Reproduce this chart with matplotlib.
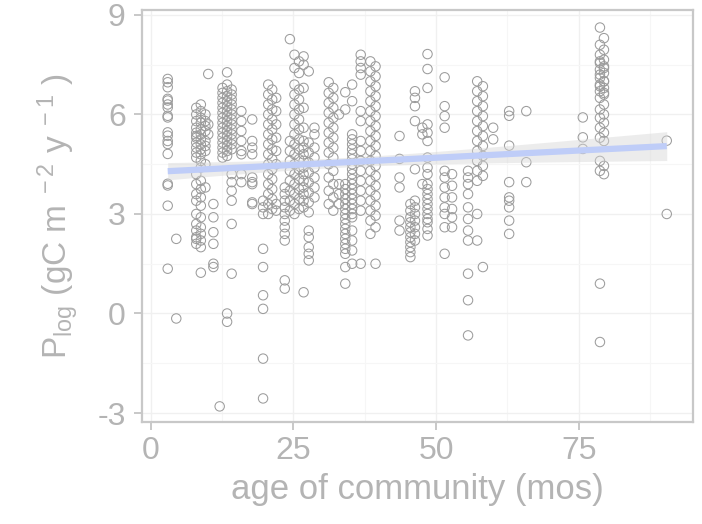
import numpy as np
import matplotlib
matplotlib.use("Agg")
import matplotlib.pyplot as plt

plt.rcParams['font.family'] = ['Liberation Sans', 'DejaVu Sans']
plt.rcParams['mathtext.fontset'] = 'custom'
plt.rcParams['mathtext.rm'] = 'Liberation Sans'
plt.rcParams['mathtext.it'] = 'Liberation Sans'

# ---- data: community age (months) and log productivity, column by column ----
age_a = [3.0]
p_a = [7.07, 6.97, 6.82, 6.47, 6.42, 6.3, 6.21, 5.96, 5.91, 5.46, 5.36, 5.2, 5.11, 4.81, 3.91, 3.86, 3.25, 1.35]
age_b = [4.5]
p_b = [2.25, -0.15]
age_c = [8.0]
p_c = [6.2, 6.0, 5.8, 5.6, 5.45, 5.3, 5.15, 5.0, 4.85, 4.7, 5.35, 4.2, 3.9, 3.6, 3.4, 3.0, 2.7, 2.5, 2.3, 2.1, 2.25]
age_d = [8.8]
p_d = [6.3, 6.1, 5.9, 5.75, 5.55, 5.4, 5.25, 5.1, 4.95, 4.8, 4.6, 4.4, 4.0, 3.75, 3.5, 3.25, 2.9, 2.6, 2.4, 2.2, 2.0, 1.23]
age_e = [9.6]
p_e = [5.8, 5.5, 5.2, 4.9, 4.5, 3.8, 6.0, 5.65, 5.05]
age_f = [10.1]
p_f = [7.22, 5.7, 5.4]
age_g = [11.0]
p_g = [3.3, 2.9, 2.45, 2.1, 1.5, 1.4]
age_h = [12.1]
p_h = [-2.8]
age_i = [12.6]
p_i = [6.8, 6.65, 6.5, 6.35, 6.2, 6.05, 5.9, 5.75, 5.6, 5.45, 5.3, 5.15, 5.0, 4.85, 4.7]
age_j = [13.4]
p_j = [7.27, 6.9, 6.7, 6.55, 6.4, 6.25, 6.1, 5.95, 5.8, 5.65, 5.5, 5.35, 5.2, 5.05, 4.9, 4.75, 0.0, -0.25]
age_k = [14.2]
p_k = [6.75, 6.6, 6.45, 6.3, 6.15, 6.0, 5.85, 5.7, 5.55, 5.4, 5.25, 5.1, 4.95, 4.2, 3.96, 3.7, 3.4, 2.7, 1.2]
age_l = [15.9]
p_l = [6.1, 5.8, 5.5, 5.2, 4.9, 4.8, 4.2, 3.96]
age_m = [17.8]
p_m = [5.85, 5.2, 5.0, 4.8, 4.1, 3.96, 3.9, 3.35, 3.3]
age_n = [19.7]
p_n = [1.95, 1.4, 0.55, 0.14, -1.36, -2.56, 3.4, 3.2, 3.0]
age_o1 = [20.6]
p_o1 = [6.9, 6.6, 6.3, 6.0, 5.7, 5.4, 5.1, 4.8, 4.5, 4.2, 3.9, 3.6, 3.3, 3.0]
age_o2 = [21.3]
p_o2 = [6.75, 6.45, 6.15, 5.85, 5.55, 5.25, 4.95, 4.65, 4.35, 4.05, 3.75, 3.45, 3.15]
age_p = [22.0]
p_p = [6.5, 6.1, 5.7, 5.3, 4.9, 4.5, 3.3, 3.1]
age_q = [23.5]
p_q = [3.8, 3.6, 3.4, 3.2, 3.0, 2.8, 2.6, 2.4, 2.2, 1.0, 0.75]
age_r = [24.4]
p_r = [8.27, 5.2, 4.9, 4.6, 4.3, 4.0, 3.7, 3.4, 3.1]
age_s1 = [25.2]
p_s1 = [7.8, 7.4, 6.9, 6.6, 6.3, 6.0, 5.7, 5.4, 5.1, 4.8, 4.5, 4.2, 3.9, 3.6, 3.3, 3.0]
age_s2 = [26.0]
p_s2 = [7.6, 7.25, 6.75, 6.45, 6.15, 5.85, 5.55, 5.25, 4.95, 4.65, 4.35, 4.05, 3.75, 3.45, 3.15]
age_t = [26.8]
p_t = [7.75, 7.5, 6.8, 6.2, 5.6, 5.2, 5.0, 4.8, 4.6, 4.4, 4.2, 4.0, 3.8, 3.6, 3.4, 3.2, 0.64]
age_u = [27.7]
p_u = [7.3, 5.15, 4.85, 4.55, 4.25, 3.95, 3.65, 3.35, 3.05, 2.5, 2.3, 2.0, 1.8, 1.6]
age_v = [28.7]
p_v = [5.6, 5.4, 5.0, 4.7, 4.4, 4.1, 3.8, 3.5]
age_w1 = [31.2]
p_w1 = [6.97, 6.65, 6.35, 6.05, 5.75, 5.45, 5.15, 4.85, 4.5, 4.1, 3.7, 3.3]
age_w2 = [32.0]
p_w2 = [6.8, 6.5, 6.2, 5.9, 5.6, 5.3, 5.0, 4.7, 4.3, 3.9, 3.5, 3.1]
age_x = [33.0]
p_x = [3.9, 3.6, 3.3, 6.0]
age_y = [34.1]
p_y = [6.67, 6.15, 3.9, 3.75, 3.6, 3.45, 3.3, 3.15, 3.0, 2.85, 2.7, 2.55, 2.4, 2.25, 2.1, 1.95, 1.8, 1.4, 0.9]
age_z = [35.3]
p_z = [6.9, 6.4, 5.4, 5.25, 5.1, 4.95, 4.8, 4.65, 4.5, 4.35, 4.2, 4.05, 3.9, 3.75, 3.6, 3.45,
       3.3, 3.15, 3.0, 2.9, 2.5, 2.2, 1.9, 1.5]
age_aa = [36.8]
p_aa = [7.8, 7.6, 7.4, 7.2, 6.1, 5.8, 5.2, 4.9, 4.6, 4.3, 4.0, 3.7, 3.4, 3.1, 1.5]
age_ab1 = [38.5]
p_ab1 = [7.6, 7.3, 7.0, 6.7, 6.4, 6.1, 5.8, 5.5, 5.2, 4.9, 4.6, 4.3, 4.0, 3.7, 3.4, 3.1, 2.8, 2.4]
age_ab2 = [39.4]
p_ab2 = [7.45, 7.15, 6.85, 6.55, 6.25, 5.95, 5.65, 5.35, 5.05, 4.75, 4.45, 4.15, 3.85, 3.55, 3.25, 2.95, 2.6, 1.5]
age_ac = [43.6]
p_ac = [5.35, 4.66, 4.1, 3.8, 2.8, 2.5]
age_ad = [45.5]
p_ad = [3.3, 3.1, 2.9, 2.75, 2.6, 2.45, 2.3, 2.15, 2.0, 1.85, 1.7]
age_ae = [46.3]
p_ae = [6.7, 6.5, 6.25, 5.8, 4.35, 3.4, 3.2, 3.0, 2.8, 2.6, 2.4, 2.2]
age_af = [47.6]
p_af = [5.6, 5.4, 3.9]
age_ag = [48.5]
p_ag = [7.82, 7.37, 6.8, 5.7, 5.45, 5.2, 4.7, 4.4, 4.2, 3.9, 3.75, 3.6, 3.45, 3.3, 3.15, 3.0,
        2.85, 2.75, 2.55, 2.35]
age_ah = [51.5]
p_ah = [7.12, 6.25, 5.95, 5.6, 4.3, 4.1, 3.8, 3.5, 3.2, 3.0, 2.6, 1.8]
age_ai = [52.8]
p_ai = [4.2, 3.85, 3.5, 3.15, 2.9, 2.6]
age_aj = [55.6]
p_aj = [4.3, 4.1, 3.9, 3.6, 3.2, 2.85, 2.5, 2.2, 1.2, 0.4, -0.66]
age_ak1 = [57.2]
p_ak1 = [7.0, 6.7, 6.4, 6.1, 5.8, 5.5, 5.2, 4.9, 4.6, 4.3, 4.0, 3.0, 2.2]
age_ak2 = [58.2]
p_ak2 = [6.85, 6.55, 6.25, 5.95, 5.65, 5.35, 5.05, 4.75, 4.45, 4.15, 1.4]
age_al = [60.0]
p_al = [5.6, 5.25]
age_am = [62.8]
p_am = [6.1, 5.96, 5.06, 3.96, 3.5, 3.4, 3.2, 2.8, 2.4]
age_an = [65.8]
p_an = [6.1, 4.56, 3.96]
age_ao = [75.7]
p_ao = [5.91, 5.31, 4.96]
age_ap1 = [78.7]
p_ap1 = [8.62, 8.1, 7.8, 7.6, 7.55, 7.35, 7.2, 7.1, 6.9, 6.85, 6.7, 6.5, 6.15, 5.9, 5.6, 5.3,
         4.6, 4.3, 0.9, -0.86]
age_ap2 = [79.4]
p_ap2 = [8.3, 7.95, 7.65, 7.45, 7.4, 7.25, 7.0, 7.0, 6.8, 6.65, 6.6, 6.3, 6.0, 5.75, 5.45, 5.2,
         4.45, 4.2]
age_aq = [90.4]
p_aq = [5.21, 3.0]

groups = [
    (age_a, p_a), (age_b, p_b), (age_c, p_c), (age_d, p_d), (age_e, p_e), (age_f, p_f),
    (age_g, p_g), (age_h, p_h), (age_i, p_i), (age_j, p_j), (age_k, p_k), (age_l, p_l),
    (age_m, p_m), (age_n, p_n), (age_o1, p_o1), (age_o2, p_o2), (age_p, p_p), (age_q, p_q),
    (age_r, p_r), (age_s1, p_s1), (age_s2, p_s2), (age_t, p_t), (age_u, p_u), (age_v, p_v),
    (age_w1, p_w1), (age_w2, p_w2), (age_x, p_x), (age_y, p_y), (age_z, p_z), (age_aa, p_aa),
    (age_ab1, p_ab1), (age_ab2, p_ab2), (age_ac, p_ac), (age_ad, p_ad), (age_ae, p_ae),
    (age_af, p_af), (age_ag, p_ag), (age_ah, p_ah), (age_ai, p_ai), (age_aj, p_aj),
    (age_ak1, p_ak1), (age_ak2, p_ak2), (age_al, p_al), (age_am, p_am), (age_an, p_an),
    (age_ao, p_ao), (age_ap1, p_ap1), (age_ap2, p_ap2), (age_aq, p_aq),
]
x = np.concatenate([np.full(len(p), a[0]) for a, p in groups])
y = np.concatenate([np.asarray(p, float) for a, p in groups])

x_ticks = [0, 25, 50, 75]
y_ticks = [-3, 0, 3, 6, 9]

# ---- linear fit with 95% CI (like geom_smooth(method='lm')) ----
n = len(x)
slope, intercept = np.polyfit(x, y, 1)
xs = np.linspace(x.min(), x.max(), 100)
ys = intercept + slope * xs
resid = y - (intercept + slope * x)
s = np.sqrt(np.sum(resid ** 2) / (n - 2))
se = s * np.sqrt(1.0 / n + (xs - x.mean()) ** 2 / np.sum((x - x.mean()) ** 2))

# ---- figure ----
fig = plt.figure(figsize=(7.02, 5.24), dpi=100)
ax = fig.add_axes([0.2023, 0.1947, 0.7849, 0.7863])

grey_txt = '#b4b4b4'
border = '#c8c8c8'

ax.scatter(x, y, s=46, facecolors='none', edgecolors='#9c9c9c', linewidths=0.75, zorder=3)
ax.fill_between(xs, ys - 1.96 * se, ys + 1.96 * se, color='#d6d6d6', alpha=0.45, lw=0, zorder=4)
ax.plot(xs, ys, color='#bfcdf8', lw=4.5, solid_capstyle='butt', zorder=5)

ax.set_xlim(-1.5, 95.0)
ax.set_ylim(-3.27, 9.15)
ax.set_xticks(x_ticks)
ax.set_yticks(y_ticks)
ax.set_xticks([12.5, 37.5, 62.5, 87.5], minor=True)
ax.set_yticks([-1.5, 1.5, 4.5, 7.5], minor=True)
ax.set_yticklabels(['-3', '0', '3', '6', '9'])
ax.grid(True, which='major', color='#f0f0f0', lw=1.0, zorder=0)
ax.grid(True, which='minor', color='#f6f6f6', lw=0.8, zorder=0)
ax.set_axisbelow(True)

for sp in ax.spines.values():
    sp.set_color(border)
    sp.set_linewidth(1.6)

ax.tick_params(axis='both', which='major', colors=border, labelcolor=grey_txt,
               labelsize=23, length=5.8, width=1.4)
ax.tick_params(axis='x', which='major', pad=4)
ax.tick_params(axis='y', which='major', pad=6)
ax.tick_params(axis='both', which='minor', length=0)

ax.set_xlabel('age of community (mos)', fontsize=25, color=grey_txt, labelpad=5)
ax.set_ylabel(r'$\mathregular{P_{log}\ (gC\ m^{\ -2}\ y^{\ -1}\ )}$', fontsize=24,
              color=grey_txt, labelpad=12)

fig.savefig('out.png', dpi=100)
